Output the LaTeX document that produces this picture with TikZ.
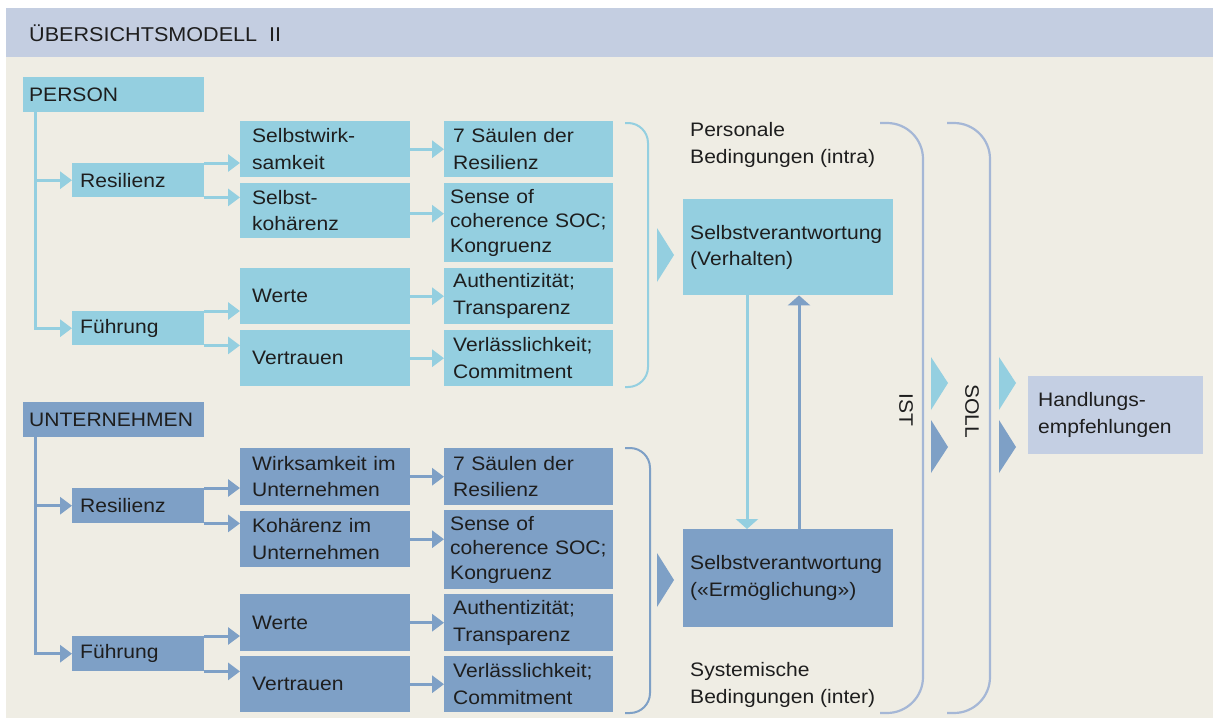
\documentclass[tikz,border=0pt]{standalone}
\usepackage{fontspec}
\setmainfont{Liberation Sans}[FakeStretch=1.08]
\usetikzlibrary{arrows.meta,calc}
\definecolor{lb}{RGB}{148,207,224}
\definecolor{db}{RGB}{126,160,198}
\definecolor{bgc}{RGB}{239,237,228}
\definecolor{titlec}{RGB}{196,206,225}
\definecolor{brc}{RGB}{165,183,214}
\definecolor{hc}{RGB}{196,207,227}
\definecolor{txt}{RGB}{30,30,30}
\newcommand\myfont{\fontsize{19.5pt}{26.5pt}\selectfont}
\newcommand\mytightfont{\fontsize{19.5pt}{24.5pt}\selectfont}
\newcommand\mytitlefont{\fontsize{20pt}{25pt}\selectfont}
\begin{document}
\begin{tikzpicture}[x=1pt,y=-1pt,
  box/.style={rectangle, anchor=north west, align=left, font=\myfont, text=txt, inner ysep=0pt},
  c1/.style={box, text width=146pt, inner xsep=12pt, minimum height=56pt},
  c2/.style={box, text width=151pt, inner xsep=9pt, minimum height=56pt},
  c2wide/.style={c2, minimum height=79pt, text width=157pt, inner xsep=6pt, font=\mytightfont},
  root/.style={box, text width=169pt, inner xsep=6pt, minimum height=35pt},
  midbox/.style={box, text width=116pt, inner xsep=8pt, minimum height=34pt},
  big/.style={box, text width=196pt, inner xsep=7pt, minimum height=97pt},
  pfill/.style={fill=lb}, ufill/.style={fill=db},
  pline/.style={draw=lb, line width=3pt},
  uline/.style={draw=db, line width=3pt},
  arr/.style={-{Triangle[length=12pt,width=17pt]}},
  varr/.style={-{Triangle[length=10pt,width=22pt]}},
  brace/.style={line width=2pt, rounded corners=20pt},
  bigbrace/.style={draw=brc, line width=2.2pt, rounded corners=36pt},
  plain/.style={anchor=west, align=left, font=\myfont, text=txt, inner xsep=7pt, inner ysep=0pt}
]
\useasboundingbox (0,0) rectangle (1213,726);
\fill[white] (0,0) rectangle (1213,726);
\fill[bgc] (6,57) rectangle (1213,718);
\fill[titlec] (6,8) rectangle (1213,57);
\node[anchor=west, font=\mytitlefont, text=txt, inner sep=0pt] (title) at (29,33) {ÜBERSICHTSMODELL\ \ II};

% ---------- PERSON ----------
\node[root, pfill] (P) at (23,77) {PERSON};
\node[midbox, pfill] (PR) at (72,163) {Resilienz};
\node[midbox, pfill] (PF) at (72,311) {Führung};
\node[c1, pfill] (P1) at (240,121) {Selbstwirk-\\samkeit};
\node[c1, pfill, minimum height=55pt] (P2) at (240,183) {Selbst-\\kohärenz};
\node[c1, pfill] (P3) at (240,268) {Werte};
\node[c1, pfill] (P4) at (240,330) {Vertrauen};
\node[c2, pfill] (Q1) at (444,121) {7 Säulen der\\Resilienz};
\node[c2wide, pfill] (Q2) at (444,183) {Sense of\\coherence SOC;\\Kongruenz};
\node[c2, pfill] (Q3) at (444,268) {Authentizität;\\Transparenz};
\node[c2, pfill] (Q4) at (444,330) {Verlässlichkeit;\\Commitment};

\coordinate (pa) at ($(P.south west)+(12,0)$);
\draw[pline, arr] (pa) |- (PF.west);
\draw[pline, arr] (pa |- PR.west) -- (PR.west);
\draw[pline, arr] (PR.north east) -- (PR.north east -| P1.west);
\draw[pline, arr] (PR.south east) -- (PR.south east -| P2.west);
\draw[pline, arr] (PF.north east) -- (PF.north east -| P3.west);
\draw[pline, arr] (PF.south east) -- (PF.south east -| P4.west);
\draw[pline, arr] (P1.east) -- (P1.east -| Q1.west);
\draw[pline, arr] ($(P2.east)+(0,3)$) -- ($(P2.east -| Q2.west)+(0,3)$);
\draw[pline, arr] (P3.east) -- (P3.east -| Q3.west);
\draw[pline, arr] (P4.east) -- (P4.east -| Q4.west);

\draw[brace, draw=lb] (625,123) -- (648,123) -- (648,387) -- (625,387);
\fill[lb] (657,228) -- (674,255) -- (657,282) -- cycle;

% ---------- UNTERNEHMEN ----------
\node[root, ufill] (U) at (23,402) {UNTERNEHMEN};
\node[midbox, ufill, minimum height=35pt] (UR) at (72,488) {Resilienz};
\node[midbox, ufill, minimum height=35pt] (UF) at (72,636) {Führung};
\node[c1, ufill, minimum height=57pt] (U1) at (240,448) {Wirksamkeit im\\Unternehmen};
\node[c1, ufill] (U2) at (240,511) {Kohärenz im\\Unternehmen};
\node[c1, ufill, minimum height=57pt] (U3) at (240,594) {Werte};
\node[c1, ufill] (U4) at (240,656) {Vertrauen};
\node[c2, ufill, minimum height=57pt] (V1) at (444,448) {7 Säulen der\\Resilienz};
\node[c2wide, ufill] (V2) at (444,510) {Sense of\\coherence SOC;\\Kongruenz};
\node[c2, ufill, minimum height=57pt] (V3) at (444,594) {Authentizität;\\Transparenz};
\node[c2, ufill] (V4) at (444,656) {Verlässlichkeit;\\Commitment};

\coordinate (ua) at ($(U.south west)+(12,0)$);
\draw[uline, arr] (ua) |- (UF.west);
\draw[uline, arr] (ua |- UR.west) -- (UR.west);
\draw[uline, arr] (UR.north east) -- (UR.north east -| U1.west);
\draw[uline, arr] (UR.south east) -- (UR.south east -| U2.west);
\draw[uline, arr] (UF.north east) -- (UF.north east -| U3.west);
\draw[uline, arr] (UF.south east) -- (UF.south east -| U4.west);
\draw[uline, arr] (U1.east) -- (U1.east -| V1.west);
\draw[uline, arr] (U2.east) -- (U2.east -| V2.west);
\draw[uline, arr] (U3.east) -- (U3.east -| V3.west);
\draw[uline, arr] (U4.east) -- (U4.east -| V4.west);

\draw[brace, draw=db] (625,448) -- (650,448) -- (650,713) -- (625,713);
\fill[db] (657,553) -- (674,580) -- (657,607) -- cycle;

% ---------- middle ----------
\node[plain] (lab1) at (683,145) {Personale\\Bedingungen (intra)};
\node[big, pfill, minimum height=96pt] (SV) at (683,199) {Selbstverantwortung\\(Verhalten)};
\node[big, ufill, minimum height=98pt] (SE) at (683,529) {Selbstverantwortung\\(«Ermöglichung»)};
\node[plain] (lab2) at (683,685) {Systemische\\Bedingungen (inter)};
\draw[pline, varr] ($(SV.south west)+(64,0)$) -- ($(SE.north west)+(64,0)$);
\draw[uline, varr] ($(SE.north west)+(116,0)$) -- ($(SV.south west)+(116,0)$);

% ---------- IST / SOLL ----------
\draw[bigbrace] (880,123) -- (923,123) -- (923,713) -- (880,713);
\draw[bigbrace] (947,123) -- (990,123) -- (990,713) -- (947,713);
\node[font=\myfont, text=txt, rotate=-90, inner sep=0pt] (ist) at (906,410) {IST};
\node[font=\myfont, text=txt, rotate=-90, inner sep=0pt] (soll) at (972,411) {SOLL};
\fill[lb] (931,357) -- (948,383) -- (931,410) -- cycle;
\fill[db] (931,420) -- (948,447) -- (931,473) -- cycle;
\fill[lb] (999,357) -- (1016,383) -- (999,410) -- cycle;
\fill[db] (999,420) -- (1016,447) -- (999,473) -- cycle;
\node[box, fill=hc, text width=155pt, inner xsep=10pt, minimum height=78pt] (H) at (1028,376) {Handlungs-\\empfehlungen};
\end{tikzpicture}
\end{document}
